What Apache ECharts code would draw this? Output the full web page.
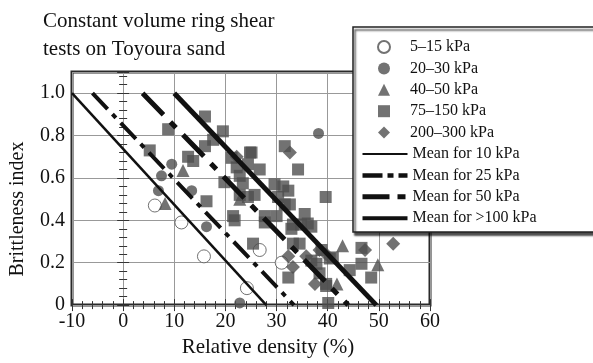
<!DOCTYPE html>
<html>
<head>
<meta charset="utf-8">
<script src="https://cdn.jsdelivr.net/npm/echarts@6/dist/echarts.min.js"></script>
<style>
html, body { margin: 0; padding: 0; background: #fff; }
#main { width: 593px; height: 363px; }
</style>
</head>
<body>
<div id="main"></div>
<script>
// points are [relative density %, brittleness index]
const p5to15 = [[6.2, 0.47], [11.4, 0.39], [15.8, 0.23], [24.2, 0.08], [26.7, 0.26], [31.0, 0.20]];
const p20to30 = [[6.9, 0.54], [7.5, 0.61], [9.5, 0.665], [13.4, 0.54], [16.3, 0.37], [22.8, 0.01], [38.2, 0.81]];
const p40to50 = [[8.2, 0.48], [11.7, 0.635], [22.8, 0.50], [42.9, 0.28], [49.8, 0.19], [41.8, 0.10]];
const p75to150 = [
  [8.8, 0.83], [5.2, 0.73], [16.0, 0.89], [19.5, 0.82], [17.6, 0.78], [16.0, 0.75], [12.7, 0.70],
  [13.7, 0.68], [21.2, 0.695], [24.8, 0.72], [22.2, 0.65], [24.4, 0.665], [19.8, 0.58], [22.8, 0.61],
  [23.4, 0.575], [16.3, 0.49], [21.5, 0.42], [21.8, 0.40], [25.4, 0.29], [25.1, 0.72], [26.7, 0.64],
  [34.2, 0.64], [31.6, 0.75], [29.6, 0.57], [31.3, 0.56], [32.3, 0.54], [30.3, 0.51], [24.4, 0.51],
  [25.7, 0.52], [39.6, 0.51], [22.8, 0.52], [27.7, 0.39], [31.6, 0.475], [32.6, 0.475], [35.5, 0.43],
  [33.2, 0.38], [33.2, 0.29], [34.5, 0.29], [32.9, 0.36], [34.8, 0.38], [36.1, 0.385], [36.8, 0.37],
  [36.8, 0.21], [37.8, 0.195], [38.8, 0.26], [41.0, 0.225], [38.4, 0.15], [39.7, 0.10], [32.3, 0.13],
  [27.7, 0.42], [30.0, 0.42], [40.1, 0.01], [46.6, 0.27], [46.6, 0.195], [44.3, 0.165], [48.5, 0.13],
  [40.4, 0.22], [39.7, 0.09]
];
const p200to300 = [[22.2, 0.70], [32.6, 0.72], [47.3, 0.26], [52.8, 0.29], [32.3, 0.23], [33.2, 0.18],
  [37.5, 0.10], [35.8, 0.23], [39.7, 0.24], [38.4, 0.26]];

// mean lines, start at IB = 1 and end at IB = 0
const mean10 = [[-10, 1.0], [28, 0]];
const mean25 = [[-6, 1.0], [33.4, 0]];
const mean50 = [[3.8, 1.0], [44, 0]];
const mean100 = [[10, 1.0], [49.5, 0]];

const yTickLabels = ['0', '0.2', '0.4', '0.6', '0.8', '1.0'];
const pointNames = ['5–15 kPa', '20–30 kPa', '40–50 kPa', '75–150 kPa', '200–300 kPa'];
const lineNames = ['Mean for 10 kPa', 'Mean for 25 kPa', 'Mean for 50 kPa', 'Mean for >100 kPa'];

const serif = "'Liberation Serif', 'Times New Roman', serif";
const gray = '#4f4f4f';

// line looks, used by the plot and by the legend
const lineLooks = [
  { width: 2.5, type: 'solid', legendWidth: 2, legendType: 'solid' },
  { width: 4, type: [22, 7, 5, 7], legendWidth: 4.5, legendType: [20, 5, 6, 5] },
  { width: 5, type: [30, 10, 8, 10], legendWidth: 5, legendType: [27, 8, 8, 8] },
  { width: 5, type: 'solid', legendWidth: 4, legendType: 'solid' }
];

const chart = echarts.init(document.getElementById('main'));

function scatter(name, data, symbol, size, itemStyle) {
  return {
    name: name, type: 'scatter', data: data, symbol: symbol, symbolSize: size,
    itemStyle: itemStyle, z: 3
  };
}
function meanLine(i, data) {
  return {
    name: lineNames[i], type: 'line', data: data, showSymbol: false, symbol: 'none', z: 4,
    lineStyle: { color: '#111', width: lineLooks[i].width, type: lineLooks[i].type },
    itemStyle: { color: '#111' }
  };
}

const frameAxis = {
  axisLine: { show: false },
  axisTick: { show: true, inside: true, length: 6, lineStyle: { color: '#333', width: 1 } },
  minorTick: { show: true, splitNumber: 5, length: 4, lineStyle: { color: '#333', width: 1 } }
};
const legendBase = {
  orient: 'vertical', padding: 0, itemHeight: 12, itemGap: 5.4, z: 10,
  textStyle: { fontFamily: serif, fontSize: 16, color: '#111' }
};

chart.setOption({
  animation: false,
  title: {
    text: 'Constant volume ring shear\ntests on Toyoura sand',
    left: 38, top: 2,
    textStyle: { fontFamily: serif, fontSize: 21, fontWeight: 'normal', color: '#111', lineHeight: 28 }
  },
  grid: { left: 72, right: 163, top: 72, bottom: 51, show: true, borderColor: '#2a2a2a', borderWidth: 3 },
  graphic: [{
    type: 'rect', z: 8, silent: true,
    shape: { x: 353, y: 27, width: 300, height: 205 },
    style: {
      fill: '#fff', stroke: '#222', lineWidth: 1.5,
      shadowColor: 'rgba(0,0,0,0.7)', shadowBlur: 2, shadowOffsetX: 2, shadowOffsetY: 3
    }
  }, {
    type: 'text', silent: true, x: 18, y: 209, rotation: Math.PI / 2,
    style: {
      text: 'Brittleness index', fontFamily: serif, fontSize: 20, fill: '#111',
      align: 'center', verticalAlign: 'middle'
    }
  }],
  legend: [
    Object.assign({}, legendBase, {
      left: 377, top: 39, data: pointNames, itemWidth: 12,
      textStyle: Object.assign({}, legendBase.textStyle, { padding: [0, 0, 0, 15] })
    }),
    Object.assign({}, legendBase, {
      left: 360, top: 146, itemWidth: 45,
      data: lineNames.map(function (n, i) {
        return {
          name: n, itemStyle: { opacity: 0 },
          lineStyle: { color: '#111', width: lineLooks[i].legendWidth, type: lineLooks[i].legendType }
        };
      })
    })
  ],
  xAxis: [
    Object.assign({}, frameAxis, {
      type: 'value', min: -10, max: 60, interval: 10,
      name: 'Relative density (%)', nameLocation: 'middle', nameGap: 29,
      nameTextStyle: { fontFamily: serif, fontSize: 21, color: '#111', padding: [0, 0, 0, 34] },
      axisLabel: { fontFamily: serif, fontSize: 20, color: '#111', margin: 7 },
      splitLine: { show: true, lineStyle: { color: '#999', width: 1 } }
    }),
    Object.assign({}, frameAxis, {
      type: 'value', position: 'top', min: -10, max: 60, interval: 10,
      axisLabel: { show: false }, splitLine: { show: false }
    })
  ],
  yAxis: [
    Object.assign({}, frameAxis, {
      type: 'value', min: 0, max: 1.1, interval: 0.2,
      axisLabel: {
        fontFamily: serif, fontSize: 20, color: '#111', margin: 7, showMaxLabel: false,
        formatter: function (v) {
          const i = Math.round(v / 0.2);
          return Math.abs(v - i * 0.2) < 1e-6 ? (yTickLabels[i] || '') : '';
        }
      },
      splitLine: { show: true, lineStyle: { color: '#999', width: 1 } }
    }),
    Object.assign({}, frameAxis, {
      type: 'value', position: 'right', min: 0, max: 1.1, interval: 0.2,
      axisLabel: { show: false }, splitLine: { show: false }
    })
  ],
  series: [
    scatter(pointNames[0], p5to15, 'circle', 13, { color: '#fff', borderColor: gray, borderWidth: 1 }),
    scatter(pointNames[1], p20to30, 'circle', 11, { color: gray }),
    scatter(pointNames[2], p40to50, 'triangle', 13, { color: gray }),
    scatter(pointNames[3], p75to150, 'rect', 12, { color: gray }),
    scatter(pointNames[4], p200to300, 'diamond', 14, { color: gray }),
    meanLine(0, mean10),
    meanLine(1, mean25),
    meanLine(2, mean50),
    meanLine(3, mean100)
  ]
});
</script>
</body>
</html>
